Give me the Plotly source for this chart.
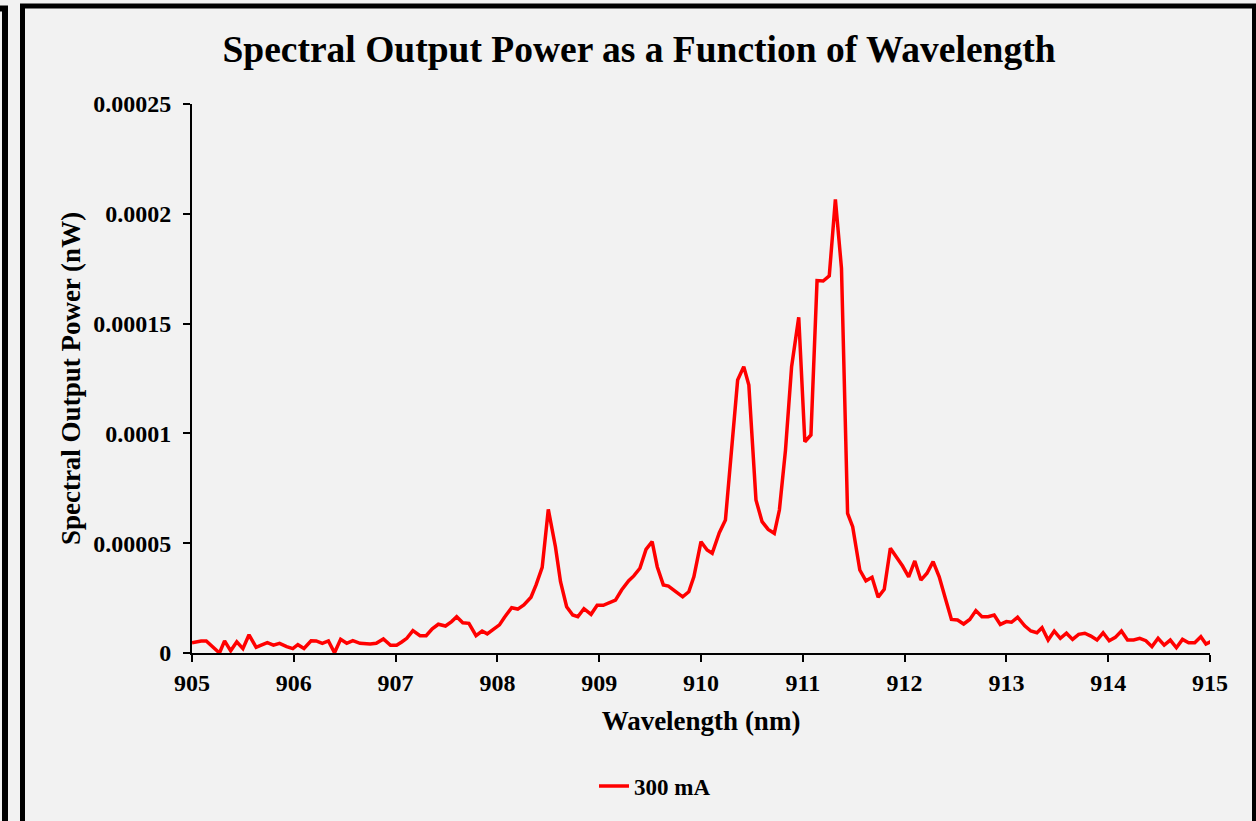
import plotly.graph_objects as go

# ---- data ----
wavelength_nm = [
    905.00, 905.09, 905.14, 905.21, 905.27, 905.32, 905.38, 905.44, 905.50, 905.56,
    905.63, 905.68, 905.74, 905.80, 905.86, 905.93, 905.99, 906.04, 906.10, 906.17,
    906.22, 906.28, 906.34, 906.40, 906.46, 906.52, 906.58, 906.65, 906.70, 906.75,
    906.81, 906.88, 906.95, 907.01, 907.06, 907.11, 907.17, 907.24, 907.30, 907.36,
    907.42, 907.49, 907.55, 907.60, 907.66, 907.72, 907.79, 907.85, 907.90, 907.96,
    908.02, 908.07, 908.14, 908.20, 908.26, 908.33, 908.38, 908.44, 908.50, 908.57,
    908.62, 908.68, 908.74, 908.79, 908.85, 908.92, 908.98, 909.04, 909.10, 909.16,
    909.22, 909.29, 909.34, 909.40, 909.46, 909.52, 909.57, 909.63, 909.68, 909.74,
    909.82, 909.88, 909.93, 910.00, 910.06, 910.11, 910.18, 910.24, 910.29, 910.36,
    910.42, 910.47, 910.54, 910.60, 910.66, 910.72, 910.77, 910.83, 910.89, 910.96,
    911.02, 911.08, 911.14, 911.20, 911.26, 911.32, 911.38, 911.44, 911.49, 911.56,
    911.62, 911.68, 911.74, 911.80, 911.86, 911.92, 911.98, 912.04, 912.10, 912.16,
    912.22, 912.28, 912.34, 912.40, 912.46, 912.52, 912.58, 912.64, 912.70, 912.76,
    912.82, 912.88, 912.94, 913.00, 913.05, 913.11, 913.18, 913.24, 913.30, 913.35,
    913.41, 913.47, 913.53, 913.59, 913.65, 913.71, 913.77, 913.83, 913.89, 913.95,
    914.01, 914.07, 914.13, 914.19, 914.25, 914.31, 914.37, 914.43, 914.49, 914.55,
    914.61, 914.67, 914.73, 914.79, 914.85, 914.91, 914.96, 915.02,
]

power_300mA = [
    4.7e-6, 5.5e-6, 5.5e-6, 2.6e-6, 0.0, 5.5e-6, 1.0e-6, 5.1e-6, 2.0e-6, 8.3e-6,
    2.6e-6, 3.6e-6, 4.7e-6, 3.6e-6, 4.4e-6, 2.9e-6, 2.0e-6, 3.8e-6, 2.1e-6, 5.6e-6,
    5.5e-6, 4.4e-6, 5.5e-6, 0.1e-6, 6.2e-6, 4.4e-6, 5.6e-6, 4.4e-6, 4.1e-6, 4.1e-6,
    4.4e-6, 6.4e-6, 3.5e-6, 3.5e-6, 5.0e-6, 6.7e-6, 10.2e-6, 7.9e-6, 7.9e-6, 11.0e-6,
    13.1e-6, 12.3e-6, 14.3e-6, 16.5e-6, 13.8e-6, 13.5e-6, 7.9e-6, 10.0e-6, 8.7e-6, 10.8e-6,
    12.8e-6, 16.3e-6, 20.6e-6, 20.0e-6, 21.9e-6, 25.4e-6, 31.0e-6, 39.0e-6, 65.4e-6, 48.4e-6,
    32.5e-6, 21.1e-6, 17.3e-6, 16.5e-6, 20.2e-6, 17.6e-6, 21.7e-6, 21.7e-6, 22.9e-6, 24.1e-6,
    28.7e-6, 32.9e-6, 35.1e-6, 38.6e-6, 47.2e-6, 50.7e-6, 39.3e-6, 31.0e-6, 30.5e-6, 28.5e-6,
    25.6e-6, 27.9e-6, 34.7e-6, 50.7e-6, 46.9e-6, 45.4e-6, 54.8e-6, 60.6e-6, 85.6e-6, 124.3e-6,
    130.4e-6, 122.0e-6, 69.7e-6, 59.8e-6, 56.3e-6, 54.5e-6, 65.1e-6, 92.4e-6, 130.4e-6, 152.9e-6,
    96.2e-6, 99.3e-6, 169.6e-6, 169.4e-6, 171.7e-6, 206.6e-6, 175.2e-6, 63.6e-6, 57.5e-6, 37.8e-6,
    32.9e-6, 34.5e-6, 25.4e-6, 29.0e-6, 47.7e-6, 43.9e-6, 39.6e-6, 34.7e-6, 41.9e-6, 33.2e-6,
    36.3e-6, 41.6e-6, 34.7e-6, 24.9e-6, 15.3e-6, 15.0e-6, 13.2e-6, 15.3e-6, 19.3e-6, 16.5e-6,
    16.5e-6, 17.3e-6, 13.0e-6, 14.3e-6, 14.0e-6, 16.3e-6, 12.4e-6, 10.0e-6, 9.2e-6, 11.5e-6,
    5.9e-6, 10.0e-6, 6.7e-6, 9.0e-6, 6.2e-6, 8.5e-6, 9.0e-6, 7.7e-6, 5.9e-6, 9.2e-6,
    5.6e-6, 7.1e-6, 10.0e-6, 5.9e-6, 5.9e-6, 6.7e-6, 5.6e-6, 2.9e-6, 6.7e-6, 3.6e-6,
    5.9e-6, 2.4e-6, 6.2e-6, 4.7e-6, 4.7e-6, 7.4e-6, 4.1e-6, 5.5e-6,
]

series_name = "300 mA"
x_tick_vals = [905, 906, 907, 908, 909, 910, 911, 912, 913, 914, 915]
y_tick_vals = [0, 0.00005, 0.0001, 0.00015, 0.0002, 0.00025]
y_tick_text = ["0", "0.00005", "0.0001", "0.00015", "0.0002", "0.00025"]

title_text = "Spectral Output Power as a Function of Wavelength"
x_title = "Wavelength (nm)"
y_title = "Spectral Output Power (nW)"

# ---- layout geometry (pixels) ----
W, H = 1256, 821
L, R, T, B = 192, 1210, 104, 653
FONT = "Liberation Serif"


def px_x(px):
    return (px - L) / (R - L)


def px_y(py):
    return (B - py) / (B - T)


fig = go.Figure()
fig.add_trace(go.Scatter(
    x=wavelength_nm, y=power_300mA, mode="lines", name=series_name,
    line=dict(color="#ff0000", width=3.5),
))

fig.update_layout(
    width=W, height=H,
    margin=dict(l=L, r=W - R, t=T, b=H - B, autoexpand=False),
    paper_bgcolor="#f2f2f2", plot_bgcolor="#f2f2f2",
    font=dict(family=FONT, color="#000000", size=24, weight="bold"),
    title=dict(text=title_text, x=639 / W, xanchor="center",
               y=1 - 49 / H, yanchor="middle", yref="container",
               font=dict(family=FONT, size=37.5, weight="bold", color="#000000")),
    showlegend=True,
    legend=dict(orientation="h", x=px_x(655), xanchor="center",
                y=px_y(786), yanchor="middle", bgcolor="rgba(0,0,0,0)",
                font=dict(family=FONT, size=23, weight="bold")),
    xaxis=dict(range=[905, 915], tickvals=x_tick_vals, showgrid=False, zeroline=False,
               showline=True, linecolor="#000000", linewidth=2,
               ticks="outside", ticklen=7, tickwidth=2, tickcolor="#000000",
               tickfont=dict(family=FONT, size=24, weight="bold"),
               ticklabelstandoff=0,
               title=dict(text=x_title, standoff=16,
                          font=dict(family=FONT, size=27, weight="bold"))),
    yaxis=dict(range=[0, 0.00025], tickvals=y_tick_vals, ticktext=y_tick_text,
               showgrid=False, zeroline=False,
               showline=True, linecolor="#000000", linewidth=2,
               ticks="outside", ticklen=7, tickwidth=2, tickcolor="#000000",
               tickfont=dict(family=FONT, size=24, weight="bold"),
               ticklabelstandoff=7,
               title=dict(text=y_title, standoff=5,
                          font=dict(family=FONT, size=27, weight="bold"))),
)

# frame borders (as in the reference screenshot)
fig.add_shape(type="rect", xref="paper", yref="paper",
              x0=px_x(22.5), x1=px_x(1254.5), y0=px_y(6), y1=px_y(840),
              line=dict(color="#000000", width=5), fillcolor="rgba(0,0,0,0)", layer="above")
fig.add_shape(type="rect", xref="paper", yref="paper",
              x0=px_x(-60), x1=px_x(5), y0=px_y(8.5), y1=px_y(840),
              line=dict(color="#000000", width=6), fillcolor="rgba(0,0,0,0)", layer="above")

fig.write_html(
    "out.html",
    config={"displayModeBar": False},
    post_script="document.body.style.margin='0px';document.body.style.background='#f2f2f2';",
)
